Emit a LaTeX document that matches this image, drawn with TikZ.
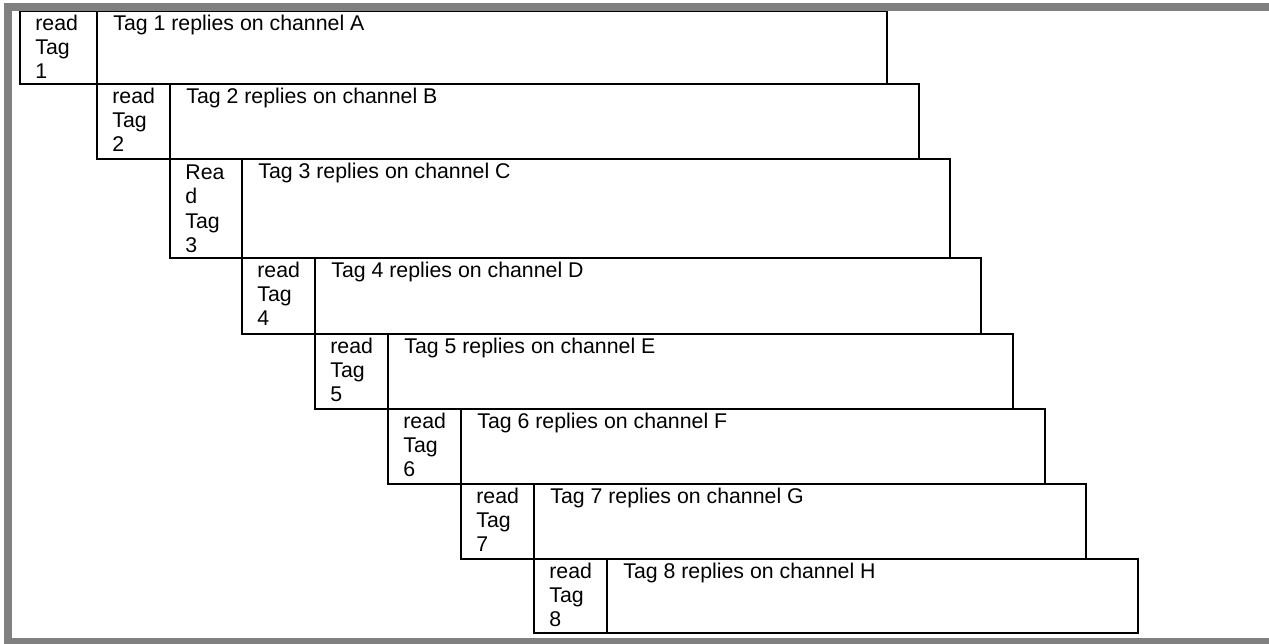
\documentclass[tikz,border=0pt]{standalone}
\usepackage{fontspec}
\setmainfont{Liberation Sans}
\definecolor{framegray}{RGB}{128,128,128}
\begin{document}
\begin{tikzpicture}[x=0.5pt,y=-0.5pt,
  cellline/.style={draw=black,line width=1.1pt},
  txt/.style={anchor=base west,inner sep=0pt,font=\fontsize{10.65}{12}\selectfont},
  framestyle/.style={draw=framegray,line width=4pt}]
\useasboundingbox (0,0) rectangle (1269,643);
\clip (0,0) rectangle (1269,643);
% cells
\foreach \i/\l/\d/\r/\t/\b/\ch in {1/20/97/887/11/84/A,2/97/170/919/84/159/B,3/170/242/950/159/258/C,4/242/315/981/258/334/D,5/315/388/1013/334/409/E,6/388/461/1045/409/484/F,7/461/534/1086/484/559/G,8/534/607/1138/559/633/H} {
  \draw[cellline] (\l,\t) rectangle (\r,\b);
  \draw[cellline] (\d,\t) -- (\d,\b);
  \node[txt] (tag\i) at (\d+16,\t+19.5) {Tag \i\ replies on channel \ch};
}
% read cells (three lines)
\foreach \i/\l/\t in {1/20/11,2/97/84,4/242/258,5/315/334,6/388/409,7/461/484,8/534/559} {
  \node[txt] (reada\i) at (\l+15,\t+19.5) {read};
  \node[txt] (readb\i) at (\l+15,\t+43.5) {Tag};
  \node[txt] (readc\i) at (\l+15,\t+67.5) {\i};
}
% read cell 3 (four lines)
\node[txt] (reada3) at (185,179) {Rea};
\node[txt] (readb3) at (185,203.5) {d};
\node[txt] (readc3) at (185,228) {Tag};
\node[txt] (readd3) at (185,252.5) {3};
% frame
\draw[framestyle] (7.5,7) rectangle (1300,642);
\end{tikzpicture}
\end{document}
